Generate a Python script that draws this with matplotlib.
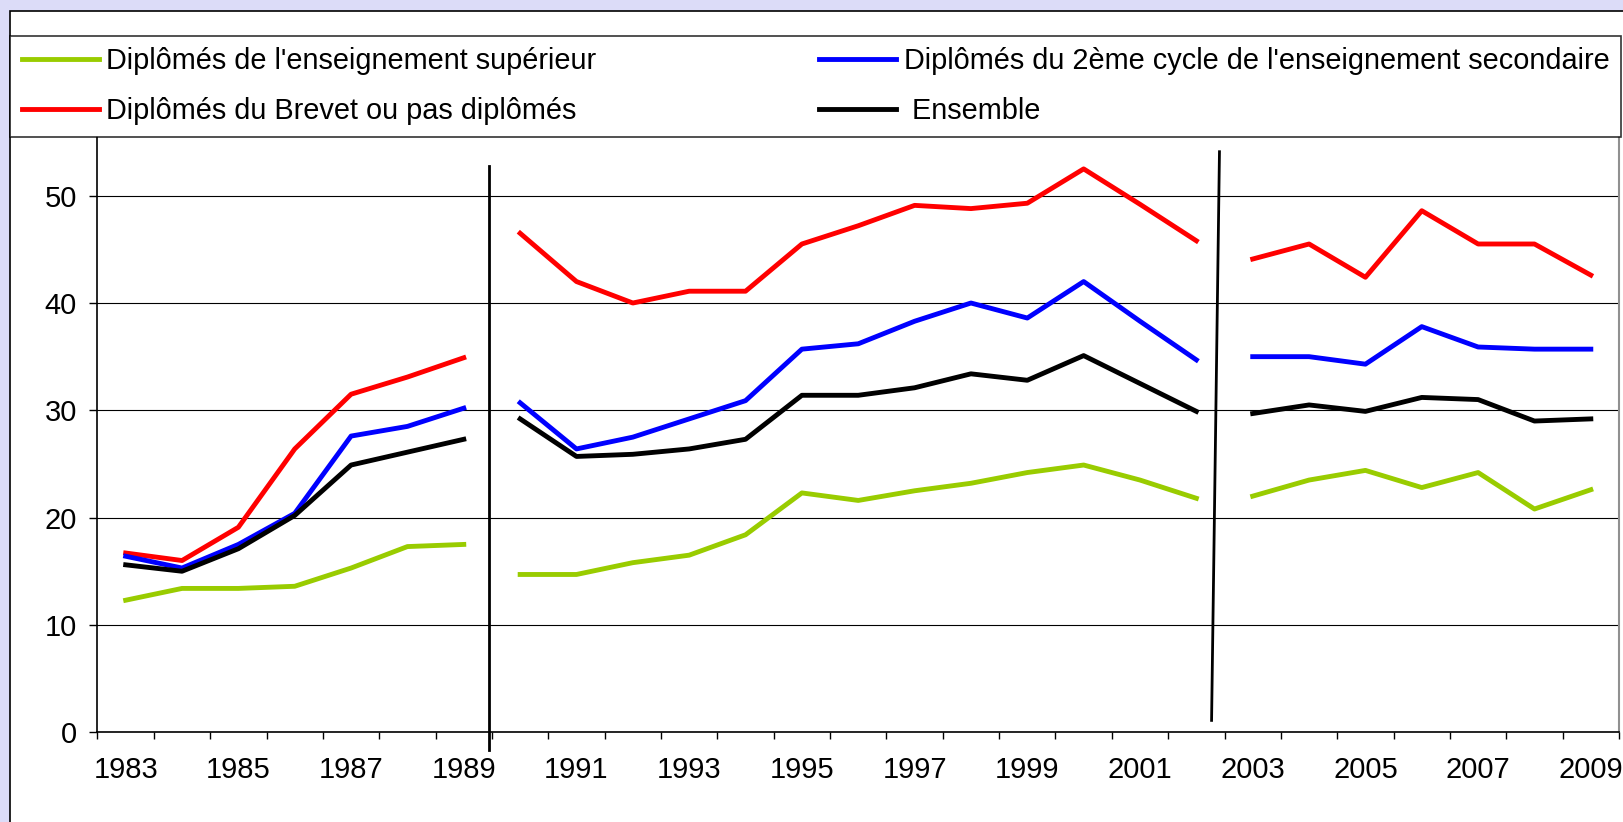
import numpy as np
import matplotlib.pyplot as plt
from matplotlib.patches import Rectangle
from matplotlib.lines import Line2D

# Data: share (%), 1983-2009
years = list(range(1983, 2010))
superieur = [12.3, 13.4, 13.4, 13.6, 15.3, 17.3, 17.5,
             14.7, 14.7, 15.8, 16.5, 18.4, 22.3, 21.6, 22.5, 23.2, 24.2, 24.9, 23.5, 21.8,
             22.0, 23.5, 24.4, 22.8, 24.2, 20.8, 22.6]
brevet = [16.7, 16.0, 19.1, 26.4, 31.5, 33.1, 34.9,
          46.5, 42.0, 40.0, 41.1, 41.1, 45.5, 47.2, 49.1, 48.8, 49.3, 52.5, 49.2, 45.8,
          44.1, 45.5, 42.4, 48.6, 45.5, 45.5, 42.6]
secondaire = [16.4, 15.3, 17.5, 20.4, 27.6, 28.5, 30.2,
              30.7, 26.4, 27.5, 29.2, 30.9, 35.7, 36.2, 38.3, 40.0, 38.6, 42.0, 38.3, 34.7,
              35.0, 35.0, 34.3, 37.8, 35.9, 35.7, 35.7]
ensemble = [15.6, 15.0, 17.1, 20.2, 24.9, 26.1, 27.3,
            29.2, 25.7, 25.9, 26.4, 27.3, 31.4, 31.4, 32.1, 33.4, 32.8, 35.1, 32.5, 29.9,
            29.7, 30.5, 29.9, 31.2, 31.0, 29.0, 29.2]

# series breaks (start, end) of each period
segments = [(0, 7), (7, 20), (20, 27)]

series = [
    ("Diplômés de l'enseignement supérieur", superieur, '#99cc00'),
    ("Diplômés du Brevet ou pas diplômés", brevet, '#ff0000'),
    ("Diplômés du 2ème cycle de l'enseignement secondaire", secondaire, '#0000ff'),
    (" Ensemble", ensemble, '#000000'),
]

W, H = 1624, 822
plt.rcParams['font.family'] = ['Liberation Sans', 'DejaVu Sans']
fig = plt.figure(figsize=(W / 100, H / 100), dpi=100, facecolor='#dcdcf8')

# white chart area with black border
fig.patches.append(Rectangle((9.8 / W, -0.1), 1.2, 1.1 - 10.7 / H, transform=fig.transFigure,
                             facecolor='white', edgecolor='black', linewidth=1.2, zorder=-10))

top_px, bot_px = 136.7, 732.2
ax = fig.add_axes([97.5 / W, (H - bot_px) / H, (1619 - 97.5) / W, (bot_px - top_px) / H])
ax.set_facecolor('white')

x = np.arange(len(years))
handles = []
for label, vals, color in series:
    vals = np.array(vals)
    for a, b in segments:
        ax.plot(x[a:b], vals[a:b], color=color, lw=3.5, solid_joinstyle='round', zorder=3)
    handles.append(Line2D([], [], color=color, lw=3.5, label=label))

# period separators
ax.plot([6.44, 6.44], [52.8, -1.7], color='black', lw=2, clip_on=False, zorder=4)
ax.plot([19.41, 19.27], [54.1, 1.1], color='black', lw=2, clip_on=False, zorder=4)

ax.set_xlim(-0.5, len(years) - 0.5)
ax.set_ylim(0, 55.5)

ax.set_yticks(range(0, 51, 10))
ax.yaxis.grid(True, color='black', lw=0.8)
ax.set_axisbelow(True)
ax.tick_params(axis='y', direction='out', length=5.8, width=1, pad=9, labelsize=21)

ax.set_xticks(np.arange(-0.5, len(years), 1.0))
ax.set_xticklabels([])
ax.set_xticks(x[::2], minor=True)
ax.set_xticklabels([str(y) for y in years[::2]], minor=True)
ax.tick_params(axis='x', which='major', direction='out', length=5, width=1)
ax.tick_params(axis='x', which='minor', length=0, pad=17, labelsize=21)

ax.spines['top'].set_visible(False)
ax.spines['right'].set_color('#909090')
ax.spines['right'].set_linewidth(1.5)
ax.spines['left'].set_linewidth(1.2)
ax.spines['bottom'].set_linewidth(1.2)

leg = fig.legend(handles=handles, ncol=2, mode='expand', loc='lower left',
                 bbox_to_anchor=(10 / W, (H - top_px) / H, (1621 - 10) / W, (top_px - 35.7) / H),
                 borderaxespad=0, frameon=True, fancybox=False, edgecolor='black',
                 fontsize=20.8, handlelength=2.67, handletextpad=0.27, borderpad=0.4,
                 labelspacing=0.75)
leg.get_frame().set_linewidth(1.2)

plt.savefig('out.png', dpi=100, facecolor=fig.get_facecolor())
